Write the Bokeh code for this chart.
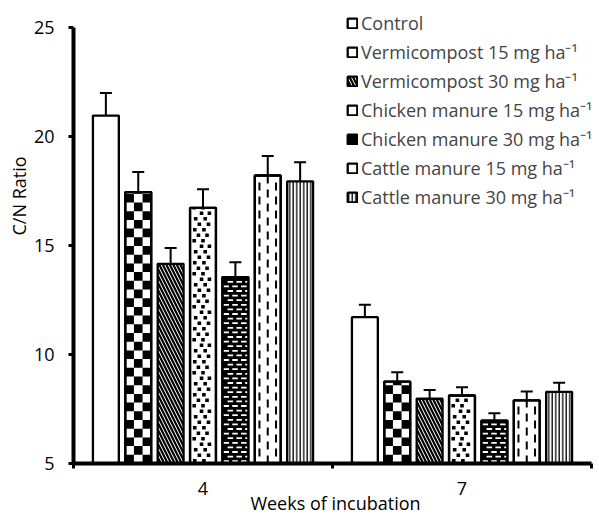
from math import ceil
from bokeh.plotting import figure
from bokeh.models import (ColumnDataSource, Range1d, FixedTicker, Whisker, TeeHead,
                          Legend, LegendItem, Title)
from bokeh.embed import file_html
from bokeh.resources import INLINE

weeks = ["4", "7"]
treatments = ["Control",
              "Vermicompost 15 mg ha\u207b\u00b9",
              "Vermicompost 30 mg ha\u207b\u00b9",
              "Chicken manure 15 mg ha\u207b\u00b9",
              "Chicken manure 30 mg ha\u207b\u00b9",
              "Cattle manure 15 mg ha\u207b\u00b9",
              "Cattle manure 30 mg ha\u207b\u00b9"]
means_w4 = [20.96, 17.45, 14.16, 16.73, 13.55, 18.21, 17.94]
err_w4 = [1.03, 0.92, 0.72, 0.85, 0.68, 0.90, 0.88]
means_w7 = [11.71, 8.76, 7.97, 8.12, 6.97, 7.90, 8.29]
err_w7 = [0.57, 0.43, 0.40, 0.38, 0.34, 0.40, 0.41]
y_ticks = [5, 10, 15, 20, 25]

FONT = "Open Sans"
FS = "18px"

W, H = 597, 519
BL, BT, BB = 73, 2, 56
XPX = 259.0                          # pixels per category
Y0, YPX = 5, 21.8                    # baseline value, pixels per unit
Y1 = Y0 + (H - BT - BB) / YPX
X1 = (W - BL) / XPX

p = figure(width=W, height=H, output_backend="svg", toolbar_location=None,
           x_range=Range1d(0, X1), y_range=Range1d(Y0, Y1),
           min_border_left=BL, min_border_right=0, min_border_top=BT, min_border_bottom=BB)
p.xgrid.visible = False
p.ygrid.visible = False
p.outline_line_color = None

step = 0.125
width = 0.1
fills = ["white", "white", "white", "white", "black", "white", "white"]
hatches = [dict(), dict(),
           dict(hatch_pattern="left_diagonal_line", hatch_color="black",
                hatch_scale=7, hatch_weight=2.2),
           dict(), dict(), dict(),
           dict(hatch_pattern="vertical_line", hatch_color="black",
                hatch_scale=3.5, hatch_weight=1.3)]


def px_x(v):
    return v / XPX


def px_y(v):
    return v / YPX


def pattern_quads(kind, xc, top):
    L, R, B, T, C = [], [], [], [], []
    left0 = xc - width / 2
    right0 = xc + width / 2

    def add(l, r, b, t, c):
        r = min(r, right0)
        t = min(t, top)
        if r > l and t > b:
            L.append(l); R.append(r); B.append(b); T.append(t); C.append(c)

    if kind == "checker":
        sh = px_y(8.7)
        cw = width / 3
        for r in range(int(ceil((top - Y0) / sh))):
            for c in range(3):
                if (r + c) % 2 == 0:
                    add(left0 + c * cw, left0 + (c + 1) * cw, Y0 + r * sh, Y0 + (r + 1) * sh, "black")
    elif kind == "dots":
        rh = px_y(5.5)
        cyc = [[0.05, 0.55], [0.3, 0.8], [0.1, 0.62], [0.42, 0.85], [0.02, 0.5], [0.25, 0.72]]
        dw, dh = px_x(3.6), px_y(3.6)
        for r in range(int(ceil((top - Y0) / rh))):
            for f in cyc[r % len(cyc)]:
                l = left0 + px_x(2) + f * (width - px_x(4) - dw)
                b = Y0 + r * rh + px_y(1)
                add(l, l + dw, b, b + dh, "black")
    elif kind == "bricks":
        rh = px_y(4.6)
        rows = [[0.04, 0.38, 0.72], [0.2, 0.54, 0.88]]
        dw, dh = px_x(5.5), px_y(1.8)
        for r in range(int(ceil((top - Y0) / rh))):
            for f in rows[r % 2]:
                l = left0 + f * width
                b = Y0 + r * rh + px_y(1.4)
                add(l, l + dw, b, b + dh, "white")
    elif kind == "vdash":
        per, dl, dw = px_y(14), px_y(8), px_x(2)
        for k, f in enumerate([0.18, 0.5, 0.82]):
            phase = per / 2 if k == 1 else 0
            n = int(ceil((top - Y0) / per)) + 1
            for r in range(n):
                b = Y0 + phase + r * per - per / 2
                l = left0 + f * width - dw / 2
                add(l, l + dw, max(b, Y0), b + dl, "black")
    return L, R, B, T, C


kinds = [None, "checker", None, "dots", "bricks", "vdash", None]

items = []
for i, name in enumerate(treatments):
    xs = [g + 0.5 + (i - 3) * step for g in range(len(weeks))]
    tops = [means_w4[i], means_w7[i]]
    errs = [err_w4[i], err_w7[i]]
    src = ColumnDataSource(dict(x=xs, top=tops,
                                upper=[t + e for t, e in zip(tops, errs)],
                                lower=[t - e for t, e in zip(tops, errs)]))
    base = p.vbar(x="x", top="top", bottom=Y0, width=width, source=src,
                  fill_color=fills[i], line_color="black", line_width=2.3, **hatches[i])
    if kinds[i]:
        L, R, B, T, C = [], [], [], [], []
        for xc, tp in zip(xs, tops):
            l, r, b, t, c = pattern_quads(kinds[i], xc, tp)
            L += l; R += r; B += b; T += t; C += c
        p.quad(left=L, right=R, bottom=B, top=T, fill_color=C, line_color=None)
        p.vbar(x="x", top="top", bottom=Y0, width=width, source=src,
               fill_color=None, line_color="black", line_width=2.3)
    items.append(LegendItem(label=name, renderers=[base]))
    w = Whisker(base="x", upper="upper", lower="lower", source=src,
                line_color="black", line_width=2,
                upper_head=TeeHead(size=12, line_width=2, line_color="black"),
                lower_head=TeeHead(size=12, line_width=2, line_color="black"))
    p.add_layout(w)

legend = Legend(items=items, location=(273, 254), padding=0, margin=0,
                border_line_color=None, background_fill_alpha=0,
                glyph_width=12, glyph_height=12, label_standoff=3,
                label_height=22, spacing=5,
                label_text_font=FONT, label_text_font_size=FS)
p.add_layout(legend, "center")

p.yaxis.ticker = FixedTicker(ticks=y_ticks)
p.yaxis.bounds = (y_ticks[0], y_ticks[-1])
p.yaxis.minor_tick_line_color = None
p.yaxis.major_tick_out = 5
p.yaxis.major_tick_in = 0
p.yaxis.major_tick_line_width = 3
p.yaxis.major_label_standoff = 14

p.xaxis.ticker = FixedTicker(ticks=[0.5, 1.5], minor_ticks=[0, 1, 2])
p.xaxis.bounds = (0, 2)
p.xaxis.major_label_overrides = {0.5: weeks[0], 1.5: weeks[1]}
p.xaxis.major_tick_line_color = None
p.xaxis.major_tick_out = 0
p.xaxis.minor_tick_out = 5
p.xaxis.minor_tick_in = 0
p.xaxis.minor_tick_line_width = 3
p.xaxis.major_label_standoff = 13
p.xaxis.axis_label = "Weeks of incubation"
p.xaxis.axis_label_standoff = -7

for ax in (p.xaxis, p.yaxis):
    ax.axis_line_width = 4
    ax.axis_line_color = "black"
    ax.major_label_text_font = FONT
    ax.major_label_text_font_size = FS
    ax.major_label_text_color = "black"
    ax.axis_label_text_font = FONT
    ax.axis_label_text_font_size = FS
    ax.axis_label_text_font_style = "normal"
    ax.axis_label_text_color = "black"

# y title, starting higher up the axis as in the reference
p.add_layout(Title(text="C/N Ratio", align="left", offset=228, standoff=0,
                   text_font=FONT, text_font_size=FS, text_font_style="normal",
                   text_color="black"), "left")

open("out.html", "w").write(file_html(p, INLINE))
